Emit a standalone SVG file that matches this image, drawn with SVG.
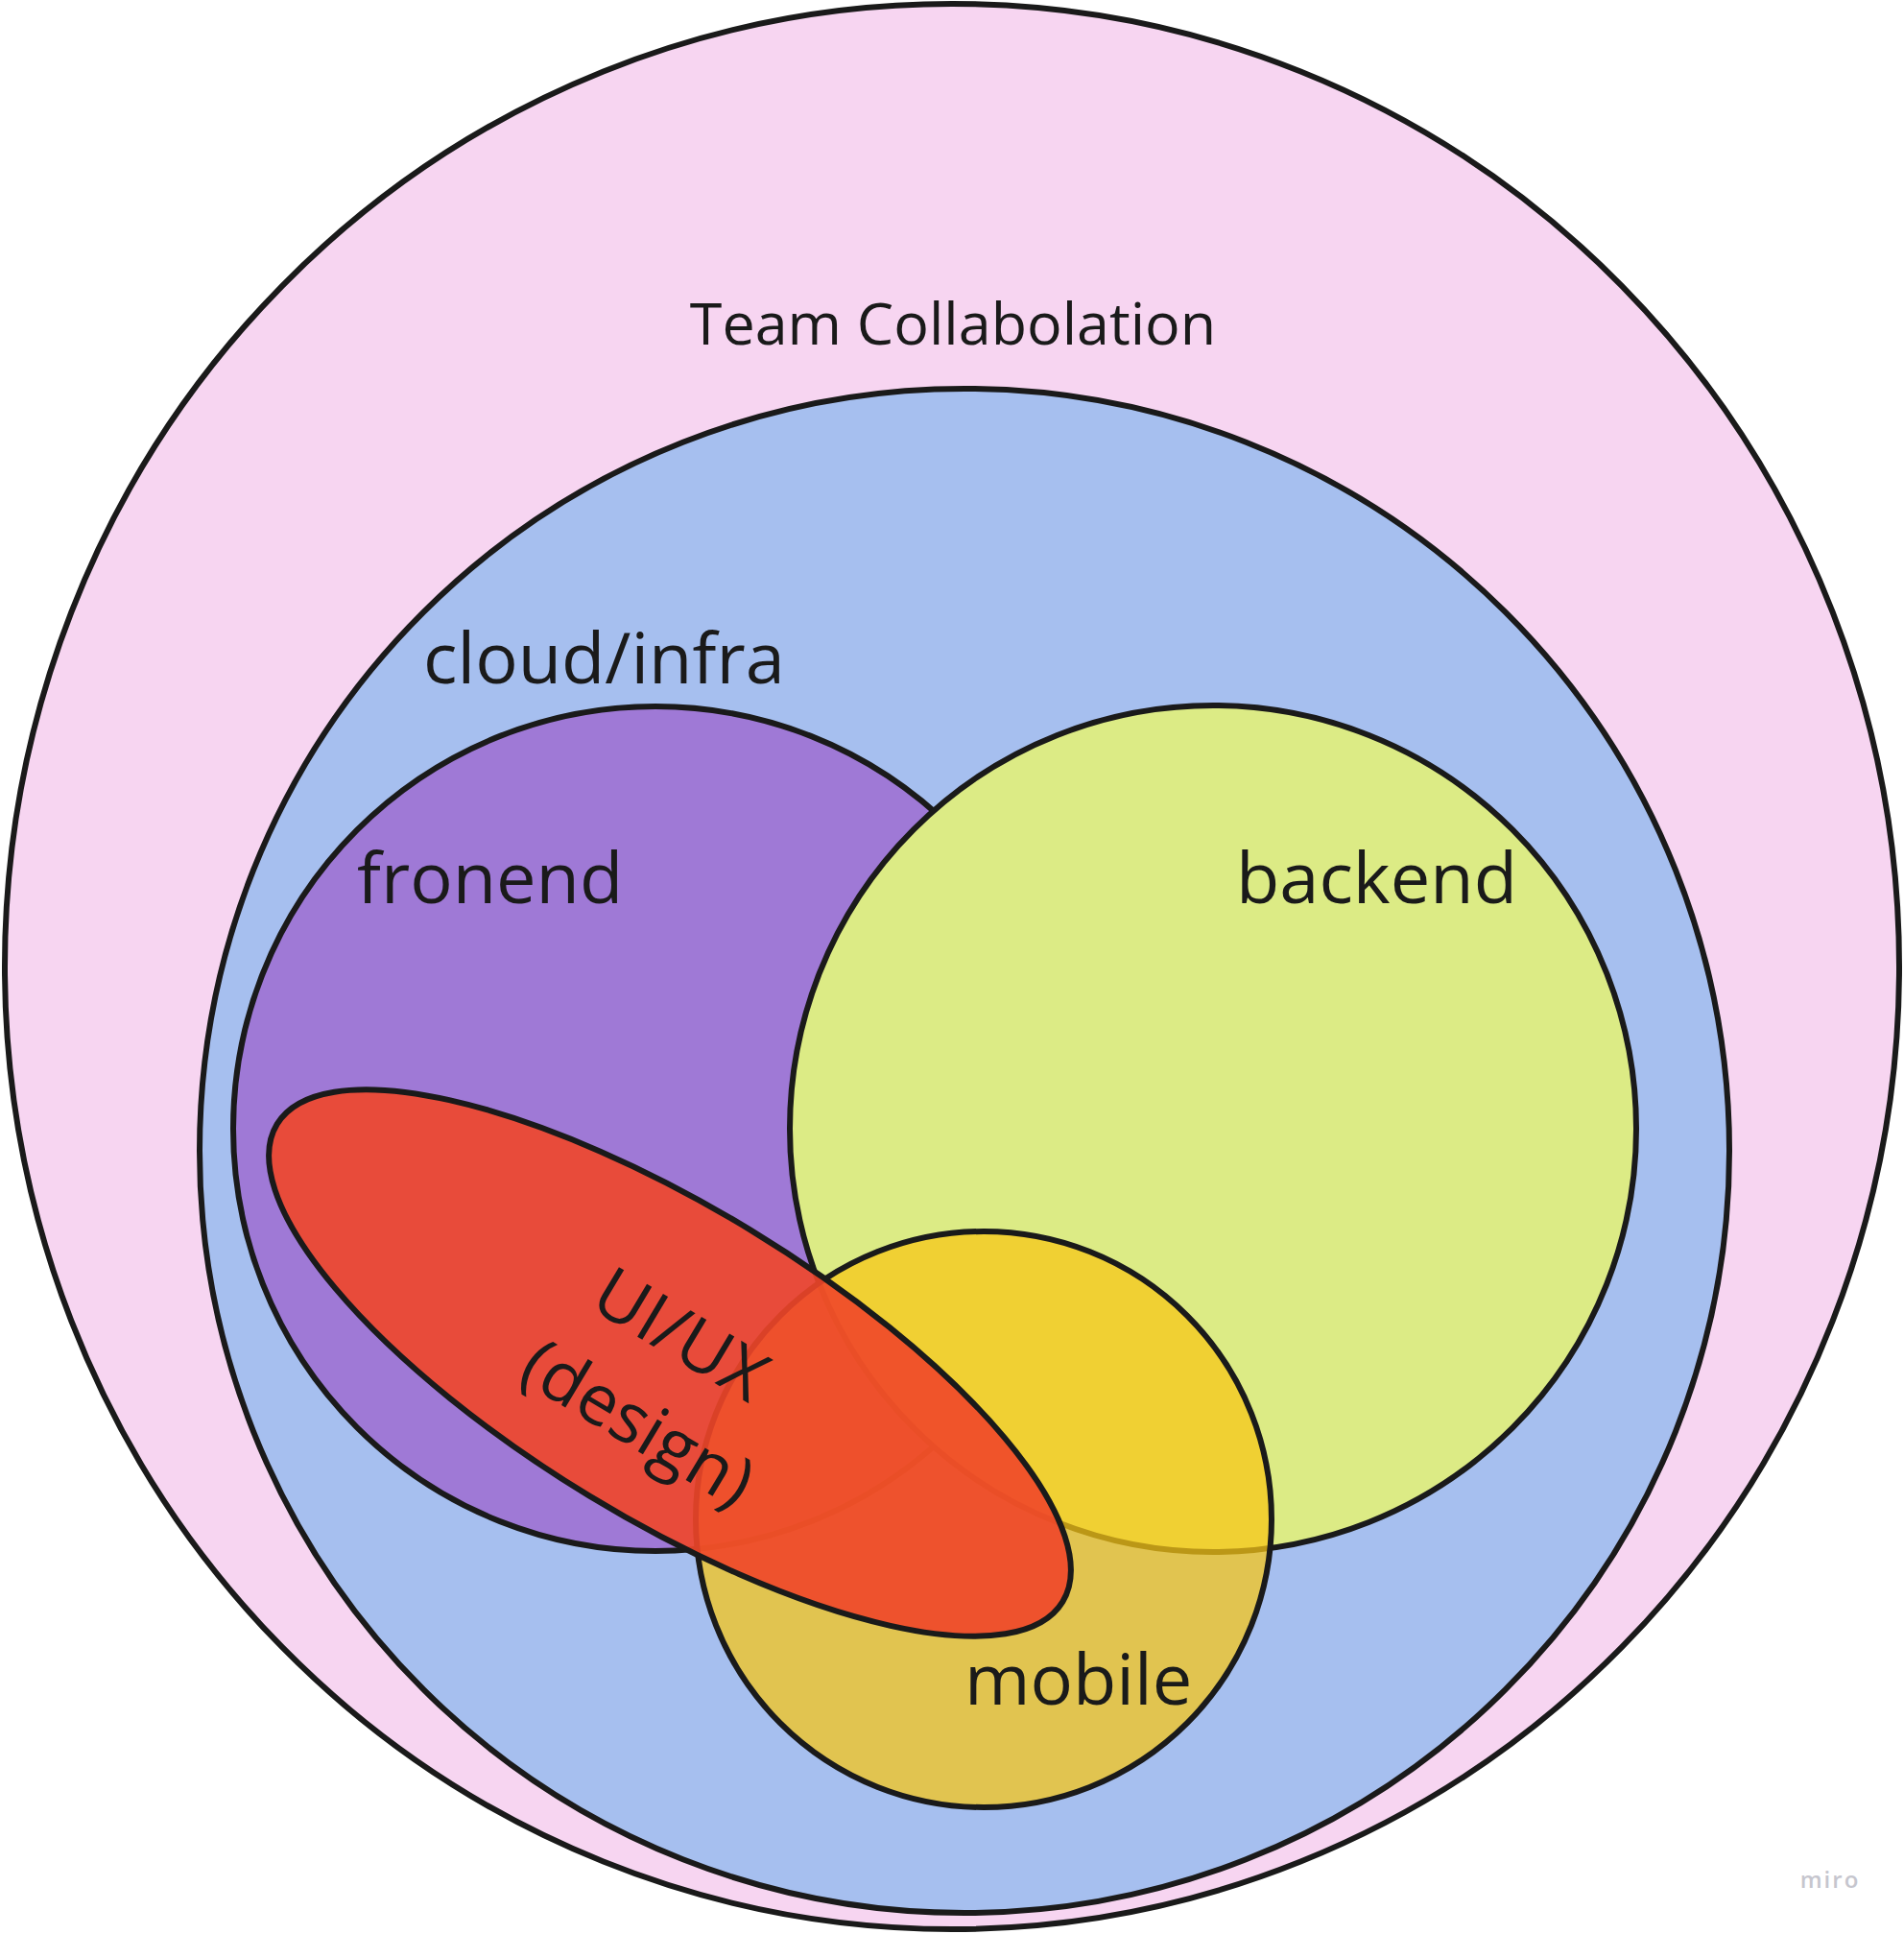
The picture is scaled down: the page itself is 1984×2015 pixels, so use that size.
<svg xmlns="http://www.w3.org/2000/svg" width="1984" height="2015" viewBox="0 0 1984 2015">
  <style>
    .shape { stroke: #1a1a1a; stroke-width: 6; }
    .label { font-family: "Open Sans", "Noto Sans", "DejaVu Sans", sans-serif; fill: #1a1a1a; }
  </style>
  <rect x="0" y="0" width="1984" height="2015" fill="#ffffff"/>
  <g id="team-collaboration">
    <ellipse class="shape" cx="992" cy="1007" rx="987" ry="1003" fill="#f7d5f1"/>
    <text class="label" x="993" y="359" font-size="61" text-anchor="middle">Team Collabolation</text>
  </g>
  <g id="cloud-infra">
    <ellipse class="shape" cx="1005" cy="1199" rx="797" ry="794" fill="#a6bfef"/>
    <text class="label" x="441" y="712" font-size="74">cloud/infra</text>
  </g>
  <g id="frontend">
    <circle class="shape" cx="683" cy="1176" r="440" fill="#9f79d6"/>
    <text class="label" x="372" y="941" font-size="74">fronend</text>
  </g>
  <g id="backend">
    <circle class="shape" cx="1264" cy="1176" r="441" fill="#dceb85"/>
    <text class="label" x="1288" y="941" font-size="74">backend</text>
  </g>
  <g id="mobile">
    <circle class="shape" cx="1025" cy="1583" r="300" fill="rgb(247,198,20)" fill-opacity="0.73"/>
    <text class="label" x="1005" y="1776" font-size="74">mobile</text>
  </g>
  <g id="ui-ux">
    <ellipse class="shape" cx="0" cy="0" rx="479" ry="162" transform="translate(698,1420) rotate(31.3)" fill="rgb(240,70,41)" fill-opacity="0.9"/>
    <text class="label" font-size="73" text-anchor="middle" transform="translate(698,1420) rotate(31)">
      <tspan x="4" y="-6">UI/UX</tspan>
      <tspan x="4" y="96">(design)</tspan>
    </text>
  </g>
  <g id="connectors"></g>
  <text x="1907" y="1967" font-family="Open Sans, sans-serif" font-size="24" font-weight="600" letter-spacing="2" fill="#c6c6ce" text-anchor="middle">miro</text>
</svg>
